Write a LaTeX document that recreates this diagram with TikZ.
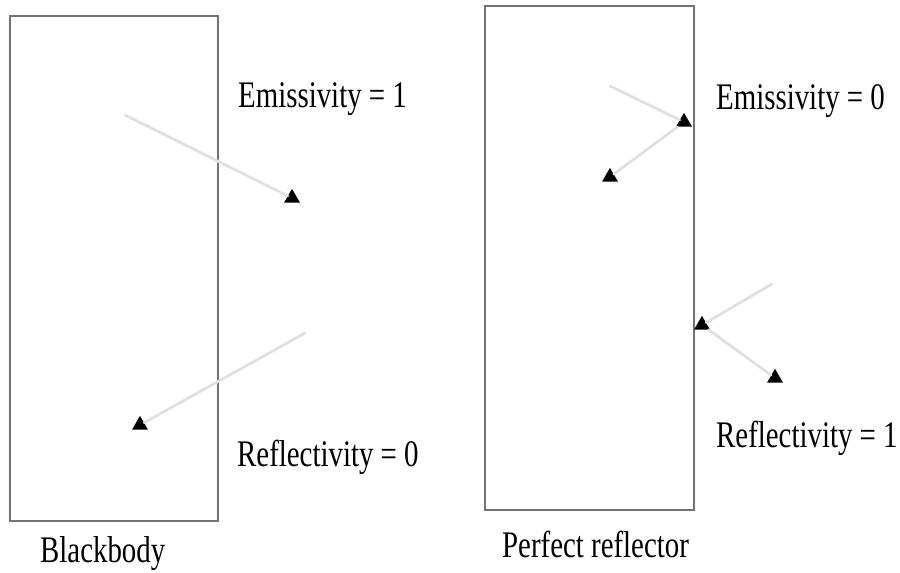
\documentclass[tikz,border=0pt]{standalone}
\usepackage{fontspec}
\setmainfont{Liberation Serif}
\usetikzlibrary{shapes.geometric}
\tikzset{
  slab/.style={draw=black!55, line width=0.9pt},
  ray/.style={draw=black!12, line width=2.4pt, line cap=round},
  tip/.style={regular polygon, regular polygon sides=3, fill=black,
    inner sep=0pt, minimum size=0.55cm},
  tag/.style={font=\fontsize{32}{36}\selectfont, inner sep=0pt,
    xscale=0.77, anchor=base west},
}
\begin{document}
\begin{tikzpicture}[x=0.03cm, y=-0.03cm]
\useasboundingbox (0,0) rectangle (900,573);

% the two bodies
\draw[slab] (10,16) rectangle (218,521);
\draw[slab] (485,6) rectangle (694,510);

% labels
\node[tag] (emisA) at (238,108) {Emissivity = 1};
\node[tag] (reflA) at (237,466) {Reflectivity = 0};
\node[tag] (black) at (40,562) {Blackbody};
\node[tag] (emisB) at (716,110) {Emissivity = 0};
\node[tag] (reflB) at (716,447) {Reflectivity = 1};
\node[tag] (perf) at (502,557) {Perfect reflector};

% blackbody: both rays end up absorbed
\coordinate (inA) at (125,115);
\node[tip] (tipA) at (292,198) {};
\draw[ray] (inA) -- (tipA);
\coordinate (inB) at (305,333);
\node[tip] (tipB) at (140,425) {};
\draw[ray] (inB) -- (tipB);

% perfect reflector: rays bounce off the face
\coordinate (inC) at (610,86);
\node[tip] (tipC) at (684,122) {};
\draw[ray] (inC) -- (tipC);
\node[tip] (tipD) at (610,177) {};
\draw[ray] (tipC) -- (tipD);
\coordinate (inE) at (772,284);
\node[tip] (tipE) at (702,325) {};
\draw[ray] (inE) -- (tipE);
\node[tip] (tipF) at (775,378) {};
\draw[ray] (tipE) -- (tipF);
\end{tikzpicture}
\end{document}
